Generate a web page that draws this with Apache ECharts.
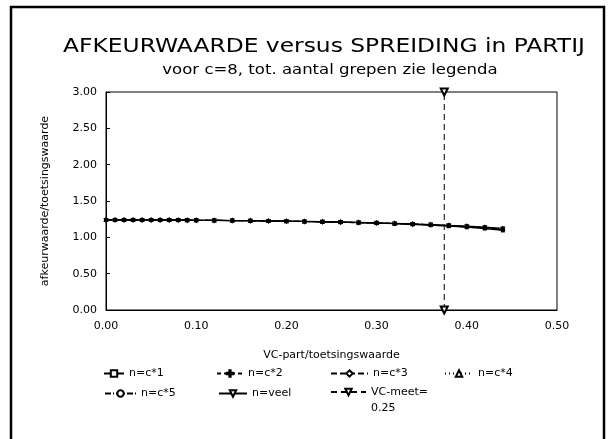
<!DOCTYPE html>
<html>
<head>
<meta charset="utf-8">
<script src="https://cdn.jsdelivr.net/npm/echarts@6/dist/echarts.min.js"></script>
<style>
  html, body { margin: 0; padding: 0; background: #fff; }
  #chart { width: 613px; height: 439px; }
</style>
</head>
<body>
<div id="chart"></div>
<script>
// VC-part/toetsingswaarde sample points
const vcPart = [0, 0.01, 0.02, 0.03, 0.04, 0.05, 0.06, 0.07, 0.08, 0.09, 0.10,
  0.12, 0.14, 0.16, 0.18, 0.20, 0.22, 0.24, 0.26, 0.28, 0.30,
  0.32, 0.34, 0.36, 0.38, 0.40, 0.42, 0.44];

// afkeurwaarde/toetsingswaarde per aantal grepen
const nC1 = [1.240, 1.240, 1.240, 1.240, 1.239, 1.239, 1.238, 1.238, 1.237, 1.236, 1.235,
  1.233, 1.231, 1.228, 1.225, 1.222, 1.218, 1.213, 1.208, 1.202, 1.195,
  1.187, 1.178, 1.167, 1.154, 1.139, 1.121, 1.095];
const nC2 = [1.240, 1.240, 1.240, 1.240, 1.239, 1.239, 1.238, 1.238, 1.237, 1.236, 1.235,
  1.233, 1.231, 1.228, 1.225, 1.222, 1.218, 1.214, 1.209, 1.203, 1.196,
  1.189, 1.180, 1.170, 1.158, 1.144, 1.128, 1.105];
const nC3 = [1.240, 1.240, 1.240, 1.240, 1.239, 1.239, 1.238, 1.238, 1.237, 1.236, 1.235,
  1.233, 1.231, 1.228, 1.225, 1.222, 1.218, 1.214, 1.209, 1.203, 1.197,
  1.190, 1.182, 1.172, 1.161, 1.148, 1.133, 1.112];
const nC4 = [1.240, 1.240, 1.240, 1.240, 1.239, 1.239, 1.238, 1.238, 1.237, 1.236, 1.235,
  1.233, 1.231, 1.229, 1.226, 1.223, 1.219, 1.215, 1.210, 1.204, 1.198,
  1.191, 1.183, 1.174, 1.163, 1.151, 1.137, 1.118];
const nC5 = [1.240, 1.240, 1.240, 1.240, 1.239, 1.239, 1.238, 1.238, 1.237, 1.236, 1.235,
  1.233, 1.231, 1.228, 1.225, 1.222, 1.218, 1.213, 1.208, 1.202, 1.196,
  1.188, 1.179, 1.169, 1.157, 1.142, 1.125, 1.100];
const nVeel = [1.240, 1.240, 1.240, 1.240, 1.239, 1.239, 1.238, 1.238, 1.237, 1.236, 1.235,
  1.233, 1.231, 1.229, 1.226, 1.223, 1.219, 1.215, 1.210, 1.205, 1.199,
  1.192, 1.184, 1.175, 1.165, 1.153, 1.140, 1.122];

// VC-meet marker line
const vcMeetX = [0.375, 0.375];
const vcMeetY = [0, 3];

const seriesNames = ['n=c*1', 'n=c*2', 'n=c*3', 'n=c*4', 'n=c*5', 'n=veel', 'VC-meet=0.25'];
const xTicks = [0, 0.1, 0.2, 0.3, 0.4, 0.5];
const yTicks = [0, 0.5, 1, 1.5, 2, 2.5, 3];

const FONT = 'DejaVu Sans';
const INK = '#000';

function pairs(xs, ys) { return xs.map((x, i) => [x, ys[i]]); }

const plusPath = 'path://M4,0H6V4H10V6H6V10H4V6H0V4H4Z';

function lineSeries(name, ys, lineType, symbol, extra) {
  return Object.assign({
    name: name,
    type: 'line',
    data: pairs(vcPart, ys),
    symbol: symbol,
    symbolSize: 2,
    clip: false,
    lineStyle: { color: INK, width: 1.2, type: lineType },
    itemStyle: { color: INK, borderColor: INK, borderWidth: 1 },
    emphasis: { disabled: true },
    animation: false
  }, extra || {});
}

function legendAt(name, left, top, itemWidth, textExtra) {
  return {
    data: [name],
    left: left,
    top: top,
    itemWidth: itemWidth,
    itemHeight: 8,
    padding: 0,
    selectedMode: false,
    textStyle: Object.assign({ fontFamily: FONT, fontSize: 11, color: INK }, textExtra || {})
  };
}

// Stretched heading text, centred on (cx, cy)
function heading(text, cx, cy, size, stretch) {
  return {
    type: 'text',
    x: cx, y: cy,
    scaleX: stretch,
    silent: true,
    style: {
      text: text, x: 0, y: 0,
      align: 'center', verticalAlign: 'middle',
      font: size + 'px "' + FONT + '"',
      fill: INK
    }
  };
}

const chart = echarts.init(document.getElementById('chart'), null, { renderer: 'canvas' });

chart.setOption({
  backgroundColor: '#fff',
  animation: false,
  graphic: [
    {
      type: 'rect',
      shape: { x: 11, y: 7, width: 593, height: 450 },
      style: { fill: 'none', stroke: INK, lineWidth: 2.5 },
      silent: true
    },
    heading('AFKEURWAARDE versus SPREIDING in PARTIJ', 324, 47, 19, 1.23),
    heading('voor c=8, tot. aantal grepen zie legenda', 330, 70, 14, 1.18)
  ],
  grid: { left: 106, right: 56, top: 92, bottom: 129, show: true, borderColor: INK, borderWidth: 1, backgroundColor: 'transparent' },
  xAxis: {
    type: 'value',
    min: xTicks[0], max: xTicks[xTicks.length - 1], interval: 0.1,
    name: 'VC-part/toetsingswaarde',
    nameLocation: 'middle', nameGap: 40,
    nameTextStyle: { fontFamily: FONT, fontSize: 11, color: INK },
    axisLine: { lineStyle: { color: INK, width: 1 } },
    axisTick: { show: false },
    splitLine: { show: false },
    axisLabel: { fontFamily: FONT, fontSize: 11, color: INK, margin: 11, formatter: v => v.toFixed(2) }
  },
  yAxis: {
    type: 'value',
    min: yTicks[0], max: yTicks[yTicks.length - 1], interval: 0.5,
    name: 'afkeurwaarde/toetsingswaarde',
    nameLocation: 'middle', nameGap: 55,
    nameTextStyle: { fontFamily: FONT, fontSize: 11, color: INK },
    axisLine: { lineStyle: { color: INK, width: 1 } },
    axisTick: { inside: true, length: 4, lineStyle: { color: INK } },
    splitLine: { show: false },
    axisLabel: { fontFamily: FONT, fontSize: 11, color: INK, margin: 9, formatter: v => v.toFixed(2) }
  },
  legend: [
    legendAt(seriesNames[0], 103, 368, 20),
    legendAt(seriesNames[1], 216, 368, 26),
    legendAt(seriesNames[2], 330, 368, 37),
    legendAt(seriesNames[3], 444, 368, 28),
    legendAt(seriesNames[4], 104, 388, 31),
    legendAt(seriesNames[5], 218, 388, 28),
    // label wraps under itself: blank first line keeps "VC-meet=" level with the icon
    Object.assign(legendAt(seriesNames[6], 330, 368, 35, { lineHeight: 16 }), {
      formatter: () => ' \nVC-meet=\n0.25'
    })
  ],
  series: [
    lineSeries(seriesNames[0], nC1, 'solid', 'emptyRect'),
    lineSeries(seriesNames[1], nC2, [4, 3], plusPath),
    lineSeries(seriesNames[2], nC3, [6, 3], 'emptyDiamond'),
    lineSeries(seriesNames[3], nC4, [1, 3], 'emptyTriangle'),
    lineSeries(seriesNames[4], nC5, [6, 2, 1, 2], 'emptyCircle'),
    lineSeries(seriesNames[5], nVeel, 'solid', 'emptyTriangle', { symbolRotate: 180 }),
    {
      name: seriesNames[6],
      type: 'line',
      data: pairs(vcMeetX, vcMeetY),
      symbol: 'emptyTriangle',
      symbolRotate: 180,
      symbolSize: 7,
      clip: false,
      lineStyle: { color: INK, width: 1, type: [6, 4] },
      itemStyle: { color: INK, borderColor: INK, borderWidth: 1 },
      emphasis: { disabled: true },
      animation: false
    }
  ]
});
</script>
</body>
</html>
